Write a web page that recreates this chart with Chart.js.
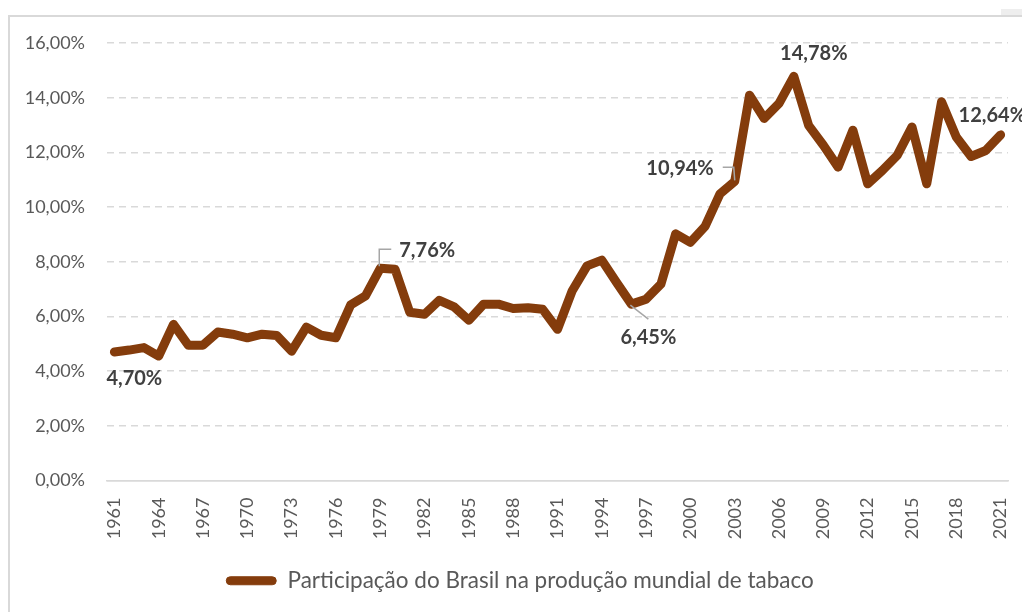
<!DOCTYPE html>
<html>
<head>
<meta charset="utf-8">
<script src="https://cdn.jsdelivr.net/npm/chart.js@4/dist/chart.umd.min.js"></script>
<style>
  html, body { margin: 0; padding: 0; background: #fff; }
  #wrap { position: relative; width: 1022px; height: 612px; overflow: hidden; }
  #frame { position: absolute; left: 8px; top: 15px; width: 1100px; height: 700px;
           border-left: 2px solid #d9d9d9; border-top: 2px solid #d9d9d9; pointer-events: none; }
  #corner { position: absolute; left: 1001px; top: 9px; width: 21px; height: 6px; background: #eeeeee; }
  canvas { position: absolute; left: 0; top: 0; }
</style>
</head>
<body>
<div id="wrap">
  <canvas id="c" width="1022" height="612"></canvas>
  <div id="frame"></div>
  <div id="corner"></div>
</div>
<script>
const years = [];
for (let y = 1961; y <= 2021; y++) years.push(String(y));

const shareValues = [
  4.70, 4.77, 4.86, 4.55, 5.71, 4.95, 4.95, 5.43, 5.35, 5.22,
  5.35, 5.30, 4.73, 5.61, 5.31, 5.22, 6.42, 6.75, 7.76, 7.73,
  6.15, 6.08, 6.59, 6.35, 5.86, 6.45, 6.45, 6.29, 6.32, 6.26,
  5.53, 6.94, 7.85, 8.06, 7.24, 6.45, 6.63, 7.18, 9.02, 8.71,
  9.30, 10.48, 10.94, 14.09, 13.24, 13.79, 14.78, 12.99, 12.26, 11.46,
  12.81, 10.85, 11.34, 11.89, 12.93, 10.85, 13.85, 12.56, 11.85, 12.07,
  12.64
];

const seriesName = 'Participação do Brasil na produção mundial de tabaco';
const labelledYears = ['1961', '1979', '1996', '2003', '2007', '2021'];
const yTicks = [0, 2, 4, 6, 8, 10, 12, 14, 16];

const fmt = v => v.toFixed(2).replace('.', ',') + '%';
const lineColor = '#843C0C';
const FONT = 'Lato, Carlito, Calibri, sans-serif';

// label placement (offsets relative to the data point)
const labelPlacement = {
  '1961': { dx: -8, dy: 27, align: 'left' },
  '1979': { dx: 19, dy: -18, align: 'left', leader: [[-1, -2], [-1, -19], [11, -19]] },
  '1996': { dx: 17, dy: 33, align: 'center', leader: [[-1, 1], [17, 15]] },
  '2003': { dx: -21, dy: -13, align: 'right', leader: [[0, -1], [-1, -14], [-12, -14]] },
  '2007': { dx: 20, dy: -23, align: 'center' },
  '2021': { dx: -42, dy: -19, align: 'left' }
};

const dataLabelPlugin = {
  id: 'dataLabelPlugin',
  afterLayout(chart) {
    // shift the legend's horizontal band so it is centred like the reference
    if (chart.legend) { chart.legend.left = 32; }
  },
  afterDatasetsDraw(chart) {
    const ctx = chart.ctx;
    const meta = chart.getDatasetMeta(0);
    ctx.save();
    labelledYears.forEach(yr => {
      const i = years.indexOf(yr);
      const pt = meta.data[i];
      const p = labelPlacement[yr];
      if (p.leader) {
        ctx.beginPath();
        ctx.strokeStyle = '#a6a6a6';
        ctx.lineWidth = 1.5;
        p.leader.forEach((o, k) => {
          const x = pt.x + o[0], y = pt.y + o[1];
          if (k === 0) ctx.moveTo(x, y); else ctx.lineTo(x, y);
        });
        ctx.stroke();
      }
      ctx.font = 'bold 20px ' + FONT;
      ctx.fillStyle = '#404040';
      ctx.textAlign = p.align;
      ctx.textBaseline = 'middle';
      ctx.fillText(fmt(shareValues[i]), pt.x + p.dx, pt.y + p.dy);
    });
    ctx.restore();
  }
};

new Chart(document.getElementById('c'), {
  type: 'line',
  data: {
    labels: years,
    datasets: [{
      label: seriesName,
      data: shareValues,
      borderColor: lineColor,
      backgroundColor: lineColor,
      borderWidth: 9,
      borderJoinStyle: 'round',
      borderCapStyle: 'round',
      pointRadius: 0,
      pointHoverRadius: 0,
      tension: 0,
      fill: false
    }]
  },
  options: {
    responsive: false,
    animation: false,
    events: [],
    layout: { padding: { left: 0, right: 14, top: 43, bottom: 10 } },
    plugins: {
      tooltip: { enabled: false },
      legend: {
        position: 'bottom',
        labels: {
          color: '#595959',
          font: { size: 22.5, family: FONT },
          boxWidth: 50,
          boxHeight: 8,
          useBorderRadius: true,
          borderRadius: 4,
          padding: 9,
          generateLabels: () => [{
            text: seriesName,
            fillStyle: lineColor,
            strokeStyle: lineColor,
            lineWidth: 1,
            fontColor: '#595959',
            datasetIndex: 0,
            borderRadius: 4
          }]
        }
      }
    },
    scales: {
      x: {
        type: 'category',
        offset: true,
        grid: { display: false, drawTicks: false },
        border: { display: true, color: '#d9d9d9', width: 1.5 },
        afterFit: s => { s.height = 80; s.paddingLeft = 0; s.paddingRight = 0; },
        ticks: {
          autoSkip: false,
          minRotation: 90,
          maxRotation: 90,
          padding: 17,
          color: '#595959',
          font: { size: 18, family: FONT },
          callback: (val, idx) => (idx % 3 === 0 ? years[idx] : '')
        }
      },
      y: {
        min: 0,
        max: 16,
        afterFit: s => { s.width = 107; s.paddingTop = 0; s.paddingBottom = 0; },
        afterBuildTicks: s => { s.ticks = yTicks.map(v => ({ value: v })); },
        grid: {
          drawTicks: false,
          color: '#d9d9d9',
          lineWidth: 1.5
        },
        border: { display: false, dash: ctx => (ctx.tick && ctx.tick.value === 0 ? [] : [7, 5]) },
        ticks: {
          padding: 22,
          color: '#595959',
          font: { size: 18, family: FONT },
          callback: v => fmt(v)
        }
      }
    }
  },
  plugins: [dataLabelPlugin]
});
</script>
</body>
</html>
